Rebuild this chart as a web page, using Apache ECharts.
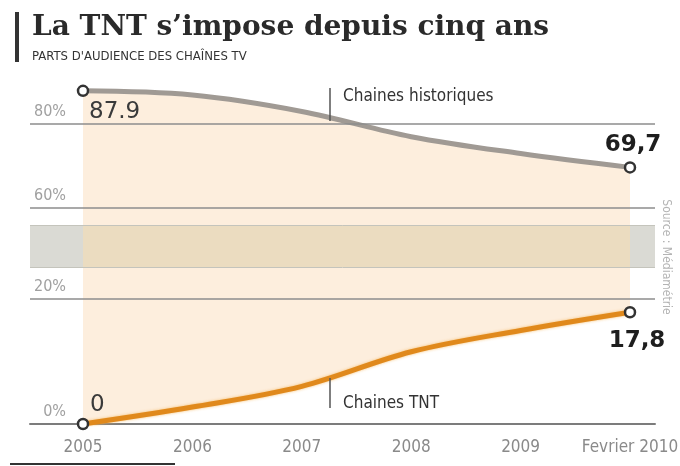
<!DOCTYPE html>
<html><head><meta charset="utf-8">
<script src="https://cdn.jsdelivr.net/npm/echarts@6/dist/echarts.min.js"></script>
<style>html,body{margin:0;padding:0;background:#fff}#c{width:680px;height:466px}</style>
</head><body><div id="c"></div>
<script>
// ---- data ----
const categories = ['2005', '2006', '2007', '2008', '2009', 'Fevrier 2010'];
const historiques = [87.9, 86.9, 83.0, 77.0, 73.0, 69.7];
const tnt = [0, 2.7, 6.0, 11.5, 14.9, 17.8];
const historiquesEndLabels = ['87.9', '69,7'];
const tntEndLabels = ['0', '17,8'];
const upperTicks = [60, 80];
const lowerTicks = [0, 20];
const seriesNames = ['Chaines historiques', 'Chaines TNT'];

const NARROW = '"Liberation Sans Narrow", "DejaVu Sans Condensed", "Liberation Sans", sans-serif';
const NUM = '"DejaVu Sans", sans-serif';
const peach = '#fdeedd';

function buildItems(vals, endLabels, firstLabel, lastLabel) {
  const last = vals.length - 1;
  return vals.map((v, i) => {
    const item = { value: [i, v] };
    if (i === 0 || i === last) {
      item.symbol = 'circle';
      item.label = Object.assign({ show: true, formatter: i === 0 ? endLabels[0] : endLabels[1] },
        i === 0 ? firstLabel : lastLabel);
    } else {
      item.symbol = 'none';
    }
    return item;
  });
}

const firstStyle = { position: 'inside', align: 'left', fontFamily: NUM, fontSize: 23, color: '#3a3a3a' };
const lastStyle = { position: 'inside', align: 'center', fontFamily: NUM, fontSize: 23, fontWeight: 'bold', color: '#1e1e1e' };

const xCommon = { type: 'value', min: -0.4845, max: 5.2285 };
const gridL = 30, gridR = 25;

const chart = echarts.init(document.getElementById('c'), null, { renderer: 'canvas' });
chart.setOption({
  backgroundColor: '#ffffff',
  animation: false,
  title: {
    text: 'La TNT s\u2019impose depuis cinq ans',
    subtext: "PARTS D'AUDIENCE DES CHAÎNES TV",
    left: 27, top: 9, itemGap: 8,
    textStyle: { fontFamily: '"DejaVu Serif", serif', fontWeight: 'bold', fontSize: 28, color: '#2a2a2a' },
    subtextStyle: { fontFamily: NARROW, fontSize: 13, color: '#333' }
  },
  grid: [
    { left: gridL, right: gridR, top: 82, height: 143, outerBoundsMode: 'none', containLabel: false },
    { left: gridL, right: gridR, top: 225, height: 42, show: true, backgroundColor: '#dadad4', borderWidth: 0, outerBoundsMode: 'none', containLabel: false },
    { left: gridL, right: gridR, top: 267, height: 157, outerBoundsMode: 'none', containLabel: false }
  ],
  xAxis: [
    Object.assign({ gridIndex: 0, show: false }, xCommon),
    Object.assign({ gridIndex: 1, show: false }, xCommon),
    Object.assign({
      gridIndex: 2,
      axisLine: { show: true, lineStyle: { color: '#7c7c7c', width: 2 } },
      axisTick: { show: false },
      splitLine: { show: false },
      axisLabel: {
        customValues: categories.map((c, i) => i),
        formatter: v => categories[Math.round(v)],
        margin: 15, fontFamily: NARROW, fontSize: 17, color: '#8a8a8a'
      }
    }, xCommon)
  ],
  yAxis: [
    {
      gridIndex: 0, type: 'value', min: 56, max: 90,
      axisLine: { show: false }, axisTick: { show: false }, splitLine: { show: false },
      axisLabel: { customValues: upperTicks, formatter: '{value}%', inside: true, align: 'right', verticalAlign: 'bottom',
        margin: 36, padding: [0, 0, 4, 0], fontFamily: NARROW, fontSize: 16, color: '#a0a0a0' }
    },
    { gridIndex: 1, type: 'value', min: 0, max: 1, show: false },
    {
      gridIndex: 2, type: 'value', min: 0, max: 25,
      axisLine: { show: false }, axisTick: { show: false }, splitLine: { show: false },
      axisLabel: { customValues: lowerTicks, formatter: '{value}%', inside: true, align: 'right', verticalAlign: 'bottom',
        margin: 36, padding: [0, 0, 4, 0], fontFamily: NARROW, fontSize: 16, color: '#a0a0a0' }
    }
  ],
  series: [
    {
      name: seriesNames[0], type: 'line', xAxisIndex: 0, yAxisIndex: 0, smooth: 0.35,
      symbolSize: 10,
      itemStyle: { color: '#ffffff', borderColor: '#333', borderWidth: 2.5 },
      lineStyle: { color: '#a09a94', width: 5 },
      areaStyle: { color: peach, opacity: 1, origin: 'start' },
      data: buildItems(historiques, historiquesEndLabels,
        Object.assign({ offset: [6, 21] }, firstStyle),
        Object.assign({ offset: [3, -22] }, lastStyle)),
      markLine: {
        silent: true, symbol: 'none', label: { show: false },
        lineStyle: { color: '#8c8c8c', width: 1.5, type: 'solid' },
        data: upperTicks.map(t => ({ yAxis: t }))
      },
      z: 3
    },
    {
      type: 'line', xAxisIndex: 1, yAxisIndex: 1, silent: true, symbol: 'none',
      lineStyle: { width: 0 },
      areaStyle: { color: '#ebdcc0', opacity: 1 },
      data: [[0, 1], [categories.length - 1, 1]],
      markLine: {
        silent: true, symbol: 'none', label: { show: false },
        lineStyle: { color: '#c4c4bc', width: 1, type: 'solid' },
        data: [{ yAxis: 0 }, { yAxis: 1 }]
      },
      z: 1
    },
    {
      name: seriesNames[1], type: 'line', xAxisIndex: 2, yAxisIndex: 2, smooth: 0.35,
      symbolSize: 10,
      itemStyle: { color: '#ffffff', borderColor: '#333', borderWidth: 2.5 },
      lineStyle: { color: '#e0891c', width: 5, shadowColor: 'rgba(245,185,100,0.9)', shadowBlur: 3 },
      areaStyle: { color: peach, opacity: 1, origin: 'end' },
      data: buildItems(tnt, tntEndLabels,
        Object.assign({ offset: [7, -19] }, firstStyle),
        Object.assign({ offset: [7, 29] }, lastStyle)),
      markLine: {
        silent: true, symbol: 'none', label: { show: false },
        lineStyle: { color: '#8c8c8c', width: 1.5, type: 'solid' },
        data: lowerTicks.filter(t => t > 0).map(t => ({ yAxis: t }))
      },
      z: 3
    }
  ],
  graphic: [
    { type: 'rect', shape: { x: 15, y: 12, width: 4, height: 50 }, style: { fill: '#333' } },
    { type: 'line', shape: { x1: 330, y1: 88, x2: 330, y2: 121 }, style: { stroke: '#555', lineWidth: 1.5 }, z: 10 },
    { type: 'text', x: 343, y: 97, style: { text: seriesNames[0], font: '17px ' + NARROW, fill: '#333', verticalAlign: 'middle' }, z: 10 },
    { type: 'line', shape: { x1: 330, y1: 378, x2: 330, y2: 408 }, style: { stroke: '#555', lineWidth: 1.5 }, z: 10 },
    { type: 'text', x: 343, y: 404, style: { text: seriesNames[1], font: '17px ' + NARROW, fill: '#333', verticalAlign: 'middle' }, z: 10 },
    { type: 'text', x: 666, y: 257, rotation: -Math.PI / 2,
      style: { text: 'Source : Médiamétrie', font: '12px ' + NARROW, fill: '#b4b4b4', align: 'center', verticalAlign: 'middle' } },
    { type: 'line', shape: { x1: 10, y1: 464, x2: 175, y2: 464 }, style: { stroke: '#333', lineWidth: 2 } }
  ]
});
</script>
</body></html>
